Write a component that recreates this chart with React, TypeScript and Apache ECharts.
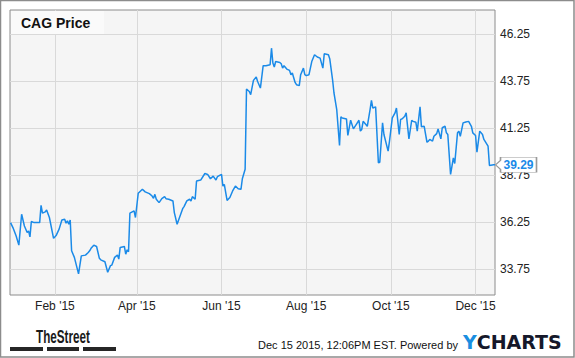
import React, { useEffect, useRef } from "react";
import * as echarts from "echarts";

const dates: string[] = [
  "2014-12-31","2015-01-02","2015-01-04","2015-01-06","2015-01-08","2015-01-10","2015-01-12","2015-01-13","2015-01-14","2015-01-15",
  "2015-01-17","2015-01-21","2015-01-22","2015-01-23","2015-01-25","2015-01-26","2015-01-28","2015-01-31","2015-02-02","2015-02-04",
  "2015-02-06","2015-02-08","2015-02-09","2015-02-10","2015-02-11","2015-02-12","2015-02-13","2015-02-15","2015-02-18","2015-02-20",
  "2015-02-23","2015-02-25","2015-02-26","2015-02-27","2015-03-01","2015-03-03","2015-03-05","2015-03-06","2015-03-09","2015-03-11",
  "2015-03-13","2015-03-14","2015-03-16","2015-03-18","2015-03-19","2015-03-20","2015-03-23","2015-03-24","2015-03-25","2015-03-26",
  "2015-03-27","2015-03-30","2015-03-31","2015-04-02","2015-04-05","2015-04-07","2015-04-10","2015-04-12","2015-04-13","2015-04-14",
  "2015-04-15","2015-04-17","2015-04-19","2015-04-21","2015-04-22","2015-04-24","2015-04-27","2015-04-28","2015-04-30","2015-05-02",
  "2015-05-04","2015-05-05","2015-05-07","2015-05-09","2015-05-10","2015-05-11","2015-05-13","2015-05-14","2015-05-17","2015-05-20",
  "2015-05-22","2015-05-24","2015-05-26","2015-05-28","2015-05-29","2015-06-01","2015-06-02","2015-06-03","2015-06-05","2015-06-07",
  "2015-06-09","2015-06-11","2015-06-13","2015-06-15","2015-06-16","2015-06-18","2015-06-19","2015-06-21","2015-06-22","2015-06-24",
  "2015-06-26","2015-06-27","2015-06-29","2015-07-01","2015-07-03","2015-07-06","2015-07-07","2015-07-08","2015-07-09","2015-07-10",
  "2015-07-13","2015-07-14","2015-07-15","2015-07-16","2015-07-18","2015-07-20","2015-07-21","2015-07-22","2015-07-24","2015-07-25",
  "2015-07-27","2015-07-28","2015-07-30","2015-07-31","2015-08-01","2015-08-03","2015-08-05","2015-08-07","2015-08-09","2015-08-11",
  "2015-08-13","2015-08-14","2015-08-17","2015-08-18","2015-08-20","2015-08-21","2015-08-23","2015-08-25","2015-08-26","2015-08-27",
  "2015-08-30","2015-08-31","2015-09-02","2015-09-04","2015-09-06","2015-09-08","2015-09-09","2015-09-10","2015-09-11","2015-09-13",
  "2015-09-14","2015-09-16","2015-09-17","2015-09-18","2015-09-20","2015-09-22","2015-09-23","2015-09-25","2015-09-26","2015-09-29",
  "2015-09-30","2015-10-02","2015-10-04","2015-10-05","2015-10-07","2015-10-08","2015-10-09","2015-10-11","2015-10-12","2015-10-14",
  "2015-10-16","2015-10-17","2015-10-19","2015-10-20","2015-10-22","2015-10-23","2015-10-25","2015-10-27","2015-10-28","2015-10-29",
  "2015-10-31","2015-11-01","2015-11-03","2015-11-04","2015-11-06","2015-11-07","2015-11-09","2015-11-10","2015-11-11","2015-11-13",
  "2015-11-14","2015-11-15","2015-11-16","2015-11-18","2015-11-19","2015-11-20","2015-11-22","2015-11-24","2015-11-26","2015-11-28",
  "2015-11-29","2015-12-01","2015-12-02","2015-12-04","2015-12-06","2015-12-07","2015-12-10","2015-12-11","2015-12-14","2015-12-15",
];

const prices: number[] = [
  36.22,35.91,35.52,35.02,36.66,36.04,35.69,35.78,35.46,36.28,
  36.22,36.22,37.14,36.72,36.79,36.89,36.49,35.38,35.55,35.87,
  36.36,36.40,36.19,36.31,36.13,36.36,34.72,34.37,33.49,34.45,
  34.49,34.63,34.72,34.85,35.02,34.95,34.32,34.24,34.14,33.58,
  33.93,33.96,34.37,34.49,34.28,34.90,34.95,34.54,34.77,34.67,
  36.72,36.84,36.49,37.78,37.99,37.85,37.76,37.63,37.51,37.72,
  37.46,37.28,37.49,37.60,37.49,37.46,37.37,36.75,36.13,36.54,
  36.96,37.07,37.37,37.46,37.37,37.60,37.46,38.43,38.48,38.83,
  38.78,38.55,38.69,38.48,38.66,38.78,38.16,38.25,37.40,37.55,
  37.90,38.16,38.02,37.99,38.55,39.05,43.32,43.19,43.02,43.78,
  43.96,43.72,43.37,44.56,44.56,44.61,45.49,44.70,44.49,44.78,
  44.73,44.66,44.43,44.56,44.38,44.31,44.08,44.17,43.67,43.55,
  43.50,44.08,44.43,44.08,44.03,44.08,44.78,45.14,45.02,44.96,
  44.43,45.19,45.14,44.91,43.81,43.11,42.22,40.32,41.84,41.78,
  41.73,40.85,41.66,41.20,41.43,41.66,41.08,41.17,41.60,41.43,
  41.34,42.22,42.72,42.31,42.37,39.40,39.43,41.52,40.90,40.02,
  40.55,41.78,42.05,42.31,40.90,41.70,41.73,41.87,42.05,40.67,
  41.66,41.60,41.55,41.08,42.37,41.31,41.34,40.49,40.55,40.64,
  40.55,40.81,40.95,41.20,40.67,41.26,41.34,40.99,40.90,38.78,
  39.22,39.66,39.36,40.99,41.08,40.81,41.52,41.57,41.60,41.34,
  40.99,40.85,39.96,41.08,40.90,40.64,40.28,39.26,39.29,39.29,
];

const xTickDates: string[] = ["2015-02-01", "2015-04-01", "2015-06-01", "2015-08-01", "2015-10-01", "2015-12-01"];
const yTickValues: number[] = [33.75, 36.25, 38.75, 41.25, 43.75, 46.25];
const monthNames: string[] = ["Jan", "Feb", "Mar", "Apr", "May", "Jun", "Jul", "Aug", "Sep", "Oct", "Nov", "Dec"];
const xRange = { min: "2014-12-30 15:00", max: "2015-12-15 00:00" };
const yRange = { min: 32.37, max: 47.52 };
const titleText = "CAG Price";
const footerText = "Dec 15 2015, 12:06PM EST. Powered by";

function toTs(s: string): number {
  const [d, t] = s.split(" ");
  const [y, m, dd] = d.split("-").map(Number);
  let hh = 0, mm = 0;
  if (t) {
    [hh, mm] = t.split(":").map(Number);
  }
  return new Date(y, m - 1, dd, hh, mm).getTime();
}

export default function App() {
  const ref = useRef<HTMLDivElement>(null);
  useEffect(() => {
    if (!ref.current) return;
    const chart = echarts.init(ref.current, null, { renderer: "svg" });
    const data = dates.map((d, i) => [toTs(d), prices[i]]);
    const xTicks = xTickDates.map(toTs);
    const last = data[data.length - 1];
    const lineColor = "#1a8ae8";
    const font = '"Liberation Sans", Arial, sans-serif';

    chart.setOption({
      animation: false,
      backgroundColor: "#ffffff",
      grid: {
        left: 10,
        right: 80,
        top: 10,
        bottom: 63,
        show: true,
        backgroundColor: "#f5f5f5",
        borderColor: "#8c8c8c",
        borderWidth: 1,
      },
      xAxis: {
        type: "value",
        min: toTs(xRange.min),
        max: toTs(xRange.max),
        axisLine: { show: false },
        axisTick: { show: false },
        splitLine: { show: false },
        axisLabel: {
          customValues: xTicks,
          margin: 5,
          color: "#222",
          fontSize: 12,
          fontFamily: font,
          hideOverlap: false,
          formatter: (v: number) => {
            const dt = new Date(v);
            return `${monthNames[dt.getMonth()]} '${String(dt.getFullYear()).slice(2)}`;
          },
        },
      },
      yAxis: {
        type: "value",
        position: "right",
        min: yRange.min,
        max: yRange.max,
        axisLine: { show: false },
        axisTick: { show: false },
        splitLine: { show: false },
        axisLabel: {
          customValues: yTickValues,
          margin: 5,
          color: "#222",
          fontSize: 12,
          fontFamily: font,
          formatter: (v: number) => v.toFixed(2),
        },
      },
      series: [
        {
          type: "line",
          data,
          z: 3,
          showSymbol: false,
          symbol: "none",
          lineStyle: { color: lineColor, width: 1.5 },
          markLine: {
            z: 1,
            silent: true,
            symbol: "none",
            label: { show: false },
            lineStyle: { color: "#d9d9d9", width: 1, type: "solid" },
            emphasis: { disabled: true },
            data: [
              ...yTickValues.map((v) => ({ yAxis: v })),
              ...xTicks.map((t) => ({ xAxis: t })),
            ],
          },
          markPoint: {
            z: 10,
            silent: true,
            symbol: "path://M0,7.5L5,3L5,0L41,0L41,15L5,15L5,12Z",
            symbolSize: [41, 15],
            symbolOffset: [21, 0],
            itemStyle: { color: "#ffffff", borderColor: "#9a9a9a", borderWidth: 1 },
            label: {
              show: true,
              position: "inside",
              offset: [2.5, 0.5],
              color: lineColor,
              fontWeight: "bold",
              fontSize: 12,
              fontFamily: font,
              formatter: (p: any) => Number(p.value).toFixed(2),
            },
            data: [{ coord: last, value: last[1] }],
          },
        },
      ],
      graphic: [
        {
          type: "rect",
          z: 20,
          shape: { x: 0.5, y: 0.5, width: 573.5, height: 356.5 },
          style: { fill: "none", stroke: "#8c8c8c", lineWidth: 1.5 },
          silent: true,
        },
        {
          type: "rect",
          z: 20,
          shape: { x: 11, y: 11, width: 93, height: 23 },
          style: { fill: "#fafafa" },
          silent: true,
        },
        {
          type: "text",
          z: 21,
          x: 21,
          y: 23,
          style: {
            text: titleText,
            font: `bold 14px ${font}`,
            fill: "#111",
            verticalAlign: "middle",
          },
        },
        {
          type: "text",
          z: 21,
          x: 36,
          y: 336,
          scaleX: 0.65,
          style: {
            text: "TheStreet",
            font: `bold 18px ${font}`,
            fill: "#1a1a1a",
            verticalAlign: "middle",
          },
        },
        { type: "rect", z: 21, shape: { x: 10, y: 347, width: 33, height: 4 }, style: { fill: "#262626" } },
        { type: "rect", z: 21, shape: { x: 47, y: 347, width: 32, height: 4 }, style: { fill: "#262626" } },
        { type: "rect", z: 21, shape: { x: 83, y: 347, width: 33, height: 4 }, style: { fill: "#262626" } },
        {
          type: "text",
          z: 21,
          x: 458,
          y: 345,
          style: {
            text: footerText,
            font: `11px ${font}`,
            fill: "#111",
            align: "right",
            verticalAlign: "middle",
          },
        },
        {
          type: "text",
          z: 21,
          x: 463,
          y: 342,
          style: {
            text: "{y|Y}{c|CHARTS}",
            verticalAlign: "middle",
            rich: {
              y: { font: 'bold 19px "DejaVu Sans", sans-serif', fill: "#1a8ee0", color: "#1a8ee0" },
              c: { font: 'bold 19px "DejaVu Sans", sans-serif', fill: "#15182a", color: "#15182a" },
            },
          },
        },
      ],
    });
    return () => chart.dispose();
  }, []);
  return (
    <div
      ref={ref}
      style={{ position: "fixed", left: 0, top: 0, width: 575, height: 358 }}
    />
  );
}
